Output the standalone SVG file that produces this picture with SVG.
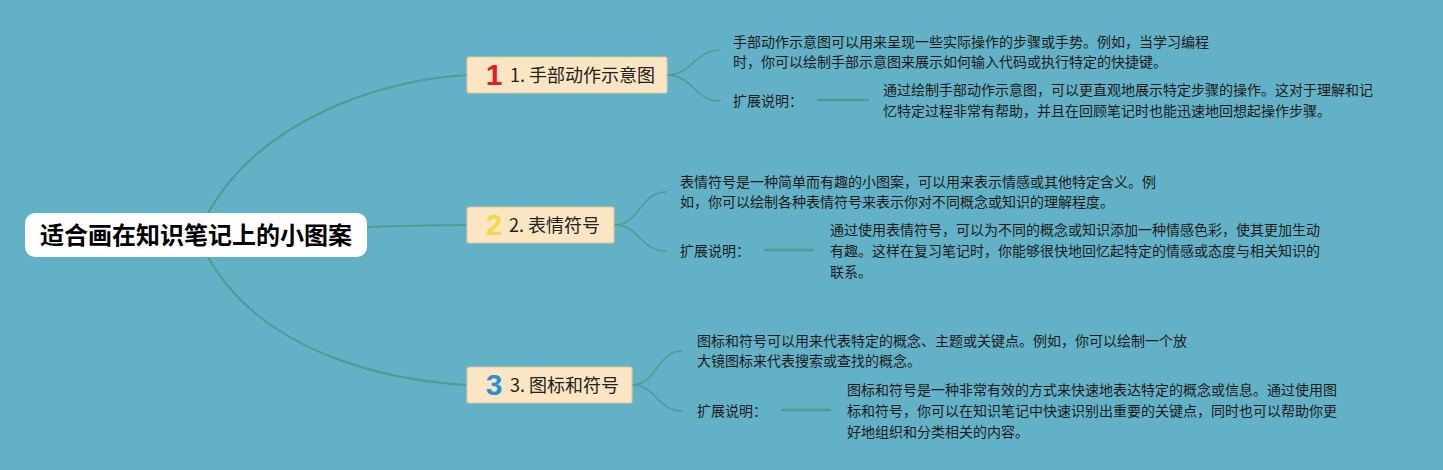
<svg xmlns="http://www.w3.org/2000/svg" width="1443" height="470" viewBox="0 0 1443 470">
<style>
.bg{fill:#62b1c6}
.conn path,.conn line{fill:none;stroke:#4f9d8f;stroke-linecap:round}
.main{stroke-width:2}
.sub{stroke-width:1.6}
.dash{stroke-width:2.5}
.root{fill:#ffffff}
.rt{font-family:"Noto Sans CJK SC","Noto Sans",sans-serif;font-size:24px;font-weight:bold;fill:#000}
.box{fill:#fbe5c3;stroke:#dcc89e;stroke-width:1.2}
.nt{font-family:"Noto Sans CJK SC","Noto Sans",sans-serif;font-size:18px;fill:#222}
.ic{font-family:"Liberation Sans",Arial,sans-serif;font-size:30px;font-weight:bold;text-anchor:middle}
.ct{font-family:"Noto Sans CJK SC","Noto Sans",sans-serif;font-size:14px;fill:#1c1c1c}
</style>
<rect class="bg" x="0" y="0" width="1443" height="470"/>
<g id="connectors" class="conn">
<path class="main" d="M208,213 C260,120 380,80 467,75"/>
<path class="main" d="M367,227 C400,226 430,225 467,225"/>
<path class="main" d="M208,257 C260,350 380,380 467,385"/>
<path class="sub" d="M667,75 C692,75 695,50 720,50"/>
<path class="sub" d="M667,75 C692,75 695,101 720,101"/>
<path class="sub" d="M614,225 C640,225 640,192 666,192"/>
<path class="sub" d="M614,225 C640,225 640,251 666,251"/>
<path class="sub" d="M632,385 C657,385 657,351 682,351"/>
<path class="sub" d="M632,385 C657,385 657,411 682,411"/>
<line class="dash" x1="818" y1="100" x2="868" y2="100"/>
<line class="dash" x1="765" y1="250" x2="813" y2="250"/>
<line class="dash" x1="782" y1="410" x2="830" y2="410"/>
</g>
<g id="root">
<rect class="root" x="25" y="213" width="342" height="44" rx="10"/>
<text class="rt" x="196" y="244" text-anchor="middle">适合画在知识笔记上的小图案</text>
</g>
<g id="node1">
<rect class="box" x="467" y="57" width="200" height="36" rx="2"/>
<text class="ic" x="494" y="85" fill="#dc1f2e">1</text>
<text class="nt" x="510" y="82">1. 手部动作示意图</text>
</g>
<g id="node1-desc">
<text class="ct" x="733" y="47">手部动作示意图可以用来呈现一些实际操作的步骤或手势。例如，当学习编程</text>
<text class="ct" x="733" y="67">时，你可以绘制手部示意图来展示如何输入代码或执行特定的快捷键。</text>
</g>
<g id="node1-ext">
<text class="ct" x="733" y="106">扩展说明：</text>
</g>
<g id="node1-ext-text">
<text class="ct" x="883" y="95">通过绘制手部动作示意图，可以更直观地展示特定步骤的操作。这对于理解和记</text>
<text class="ct" x="883" y="116">忆特定过程非常有帮助，并且在回顾笔记时也能迅速地回想起操作步骤。</text>
</g>
<g id="node2">
<rect class="box" x="467" y="207" width="147" height="36" rx="2"/>
<text class="ic" x="494" y="235" fill="#f3d944">2</text>
<text class="nt" x="509" y="232">2. 表情符号</text>
</g>
<g id="node2-desc">
<text class="ct" x="680" y="187">表情符号是一种简单而有趣的小图案，可以用来表示情感或其他特定含义。例</text>
<text class="ct" x="680" y="207">如，你可以绘制各种表情符号来表示你对不同概念或知识的理解程度。</text>
</g>
<g id="node2-ext">
<text class="ct" x="680" y="256">扩展说明：</text>
</g>
<g id="node2-ext-text">
<text class="ct" x="830" y="235">通过使用表情符号，可以为不同的概念或知识添加一种情感色彩，使其更加生动</text>
<text class="ct" x="830" y="256">有趣。这样在复习笔记时，你能够很快地回忆起特定的情感或态度与相关知识的</text>
<text class="ct" x="830" y="277">联系。</text>
</g>
<g id="node3">
<rect class="box" x="467" y="367" width="165" height="36" rx="2"/>
<text class="ic" x="494" y="395" fill="#2b92d6">3</text>
<text class="nt" x="510" y="392">3. 图标和符号</text>
</g>
<g id="node3-desc">
<text class="ct" x="697" y="346">图标和符号可以用来代表特定的概念、主题或关键点。例如，你可以绘制一个放</text>
<text class="ct" x="697" y="366">大镜图标来代表搜索或查找的概念。</text>
</g>
<g id="node3-ext">
<text class="ct" x="697" y="416">扩展说明：</text>
</g>
<g id="node3-ext-text">
<text class="ct" x="847" y="395">图标和符号是一种非常有效的方式来快速地表达特定的概念或信息。通过使用图</text>
<text class="ct" x="847" y="416">标和符号，你可以在知识笔记中快速识别出重要的关键点，同时也可以帮助你更</text>
<text class="ct" x="847" y="437">好地组织和分类相关的内容。</text>
</g>
</svg>
